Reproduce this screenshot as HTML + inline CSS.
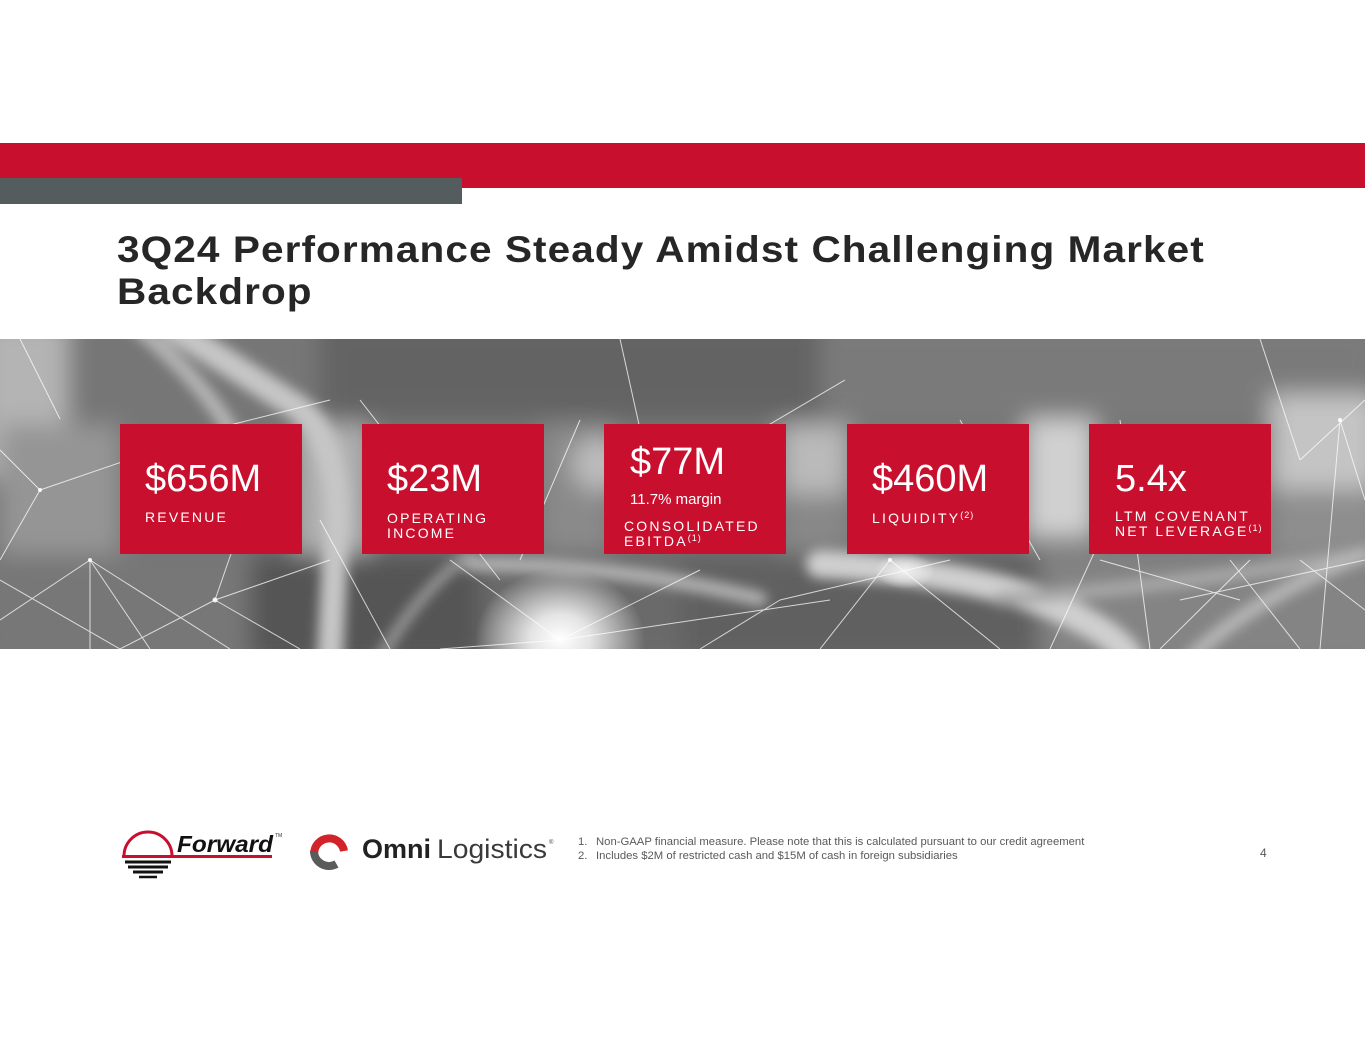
<!DOCTYPE html>
<html>
<head>
<meta charset="utf-8">
<style>
  html,body{margin:0;padding:0;}
  body{width:1365px;height:1055px;position:relative;overflow:hidden;background:#ffffff;font-family:"Liberation Sans",Arial,sans-serif;}
  .abs{position:absolute;}
  .redbar{left:0;top:143px;width:1365px;height:45px;background:#c8102e;}
  .graybar{left:0;top:178px;width:462px;height:26px;background:#545c5e;}
  .title{left:117px;top:229px;font-size:37px;line-height:42px;font-weight:bold;color:#262626;letter-spacing:1px;white-space:nowrap;transform:scaleX(1.095);transform-origin:0 0;}
  .box{position:absolute;top:424px;width:182px;height:130px;background:#c8102e;}
  .num{position:absolute;font-size:38px;line-height:38px;color:#fff;white-space:nowrap;}
  .lbl{position:absolute;font-size:14px;line-height:14.5px;color:#fff;letter-spacing:2.2px;white-space:nowrap;}
  .lbl sup{font-size:9px;letter-spacing:1px;vertical-align:0;position:relative;top:-5px;}
  .sub{position:absolute;font-size:15px;line-height:15px;color:#fff;white-space:nowrap;}
  .fn{position:absolute;font-size:11.3px;line-height:14px;color:#595959;white-space:nowrap;}
</style>
</head>
<body>
<div class="abs redbar"></div>
<div class="abs graybar"></div>
<div class="abs title">3Q24 Performance Steady Amidst Challenging Market<br>Backdrop</div>

<!-- photo -->
<svg class="abs" style="left:0;top:339px" width="1365" height="310" viewBox="0 0 1365 310">
  <defs>
    <filter id="b12" x="-20%" y="-20%" width="140%" height="140%"><feGaussianBlur stdDeviation="12"/></filter>
    <filter id="b6" x="-20%" y="-20%" width="140%" height="140%"><feGaussianBlur stdDeviation="6"/></filter>
    <radialGradient id="glow" cx="0.5" cy="0.5" r="0.5">
      <stop offset="0" stop-color="#ffffff" stop-opacity="1"/>
      <stop offset="0.35" stop-color="#f2f2f2" stop-opacity="0.9"/>
      <stop offset="1" stop-color="#ffffff" stop-opacity="0"/>
    </radialGradient>
  </defs>
  <rect x="0" y="0" width="1365" height="310" fill="#767676"/>
  <g filter="url(#b12)">
    <rect x="-20" y="-20" width="90" height="160" fill="#b4b4b4"/>
    <rect x="320" y="-20" width="500" height="100" fill="#636363"/>
    <rect x="820" y="-20" width="560" height="100" fill="#7a7a7a"/>
    <rect x="0" y="85" width="120" height="130" fill="#959595"/>
    <rect x="295" y="85" width="75" height="130" fill="#b0b0b0"/>
    <rect x="540" y="85" width="70" height="130" fill="#8a8a8a"/>
    <circle cx="600" cy="125" r="28" fill="#bcbcbc"/>
    <rect x="780" y="85" width="70" height="70" fill="#bababa"/>
    <rect x="780" y="155" width="70" height="60" fill="#888"/>
    <rect x="1025" y="80" width="70" height="120" fill="#d0d0d0"/>
    <rect x="1270" y="55" width="110" height="95" fill="#c4c4c4"/>
    <rect x="1270" y="150" width="110" height="70" fill="#8e8e8e"/>
    <rect x="-20" y="215" width="270" height="110" fill="#777"/>
    <rect x="250" y="215" width="230" height="110" fill="#545454"/>
    <rect x="480" y="215" width="200" height="110" fill="#6a6a6a"/>
    <rect x="680" y="215" width="360" height="110" fill="#616161"/>
    <rect x="1040" y="215" width="340" height="110" fill="#848484"/>
  </g>
  <g filter="url(#b6)" fill="none" stroke-linecap="round">
    <path d="M175 -10 L300 70 Q345 110 335 215 L330 320" stroke="#c6c6c6" stroke-width="26"/>
    <path d="M140 -10 Q200 40 230 90" stroke="#b5b5b5" stroke-width="16"/>
    <path d="M470 225 Q620 225 760 260" stroke="#b5b5b5" stroke-width="14"/>
    <path d="M820 225 Q1000 235 1080 280 Q1120 300 1130 320" stroke="#cfcfcf" stroke-width="28"/>
    <path d="M1000 260 Q1150 250 1365 215" stroke="#a8a8a8" stroke-width="14"/>
    <path d="M1365 215 Q1250 260 1190 320" stroke="#b8b8b8" stroke-width="14"/>
    <path d="M380 320 Q420 250 470 215" stroke="#9c9c9c" stroke-width="10"/>
  </g>
  <ellipse cx="560" cy="300" rx="85" ry="70" fill="url(#glow)"/>
  <ellipse cx="905" cy="232" rx="30" ry="18" fill="url(#glow)" opacity="0.7"/>
  <g stroke="#ffffff" stroke-width="1" opacity="0.75" fill="none">
    <line x1="40" y1="151" x2="230" y2="86"/>
    <line x1="40" y1="151" x2="0" y2="221"/>
    <line x1="0" y1="111" x2="40" y2="151"/>
    <line x1="90" y1="221" x2="0" y2="281"/>
    <line x1="90" y1="221" x2="230" y2="310"/>
    <line x1="90" y1="221" x2="150" y2="310"/>
    <line x1="90" y1="221" x2="90" y2="310"/>
    <line x1="0" y1="241" x2="120" y2="310"/>
    <line x1="215" y1="261" x2="330" y2="221"/>
    <line x1="215" y1="261" x2="120" y2="310"/>
    <line x1="215" y1="261" x2="300" y2="310"/>
    <line x1="215" y1="261" x2="250" y2="160"/>
    <line x1="320" y1="181" x2="390" y2="310"/>
    <line x1="360" y1="61" x2="500" y2="241"/>
    <line x1="450" y1="221" x2="560" y2="301"/>
    <line x1="560" y1="301" x2="700" y2="231"/>
    <line x1="560" y1="301" x2="830" y2="261"/>
    <line x1="560" y1="301" x2="440" y2="310"/>
    <line x1="780" y1="261" x2="950" y2="221"/>
    <line x1="780" y1="261" x2="700" y2="310"/>
    <line x1="890" y1="221" x2="820" y2="310"/>
    <line x1="890" y1="221" x2="1000" y2="310"/>
    <line x1="1100" y1="201" x2="1050" y2="310"/>
    <line x1="1120" y1="81" x2="1150" y2="310"/>
    <line x1="1230" y1="221" x2="1300" y2="310"/>
    <line x1="1300" y1="221" x2="1365" y2="271"/>
    <line x1="1340" y1="81" x2="1320" y2="310"/>
    <line x1="1340" y1="81" x2="1365" y2="161"/>
    <line x1="1300" y1="121" x2="1365" y2="61"/>
    <line x1="1250" y1="221" x2="1160" y2="310"/>
    <line x1="760" y1="91" x2="845" y2="41"/>
    <line x1="580" y1="81" x2="520" y2="221"/>
    <line x1="230" y1="86" x2="330" y2="61"/>
    <line x1="960" y1="81" x2="1040" y2="221"/>
    <line x1="1100" y1="221" x2="1240" y2="261"/>
    <line x1="1180" y1="261" x2="1365" y2="221"/>
    <line x1="620" y1="0" x2="640" y2="90"/>
    <line x1="1260" y1="0" x2="1300" y2="121"/>
    <line x1="20" y1="0" x2="60" y2="80"/>
  </g>
  <g fill="#ffffff" opacity="0.9">
    <circle cx="40" cy="151" r="2"/>
    <circle cx="90" cy="221" r="2"/>
    <circle cx="215" cy="261" r="2.5"/>
    <circle cx="890" cy="221" r="2"/>
    <circle cx="1340" cy="81" r="2"/>
  </g>
</svg>

<!-- boxes -->
<div class="box" style="left:120px"></div>
<div class="box" style="left:362px"></div>
<div class="box" style="left:604px"></div>
<div class="box" style="left:847px"></div>
<div class="box" style="left:1089px"></div>

<div class="num" style="left:145px;top:460px">$656M</div>
<div class="lbl" style="left:145px;top:510px">REVENUE</div>

<div class="num" style="left:387px;top:460px">$23M</div>
<div class="lbl" style="left:387px;top:511px">OPERATING<br>INCOME</div>

<div class="num" style="left:630px;top:443px">$77M</div>
<div class="sub" style="left:630px;top:492px">11.7% margin</div>
<div class="lbl" style="left:624px;top:519px">CONSOLIDATED<br>EBITDA<sup>(1)</sup></div>

<div class="num" style="left:872px;top:460px">$460M</div>
<div class="lbl" style="left:872px;top:511px">LIQUIDITY<sup>(2)</sup></div>

<div class="num" style="left:1115px;top:460px">5.4x</div>
<div class="lbl" style="left:1115px;top:509px">LTM COVENANT<br>NET LEVERAGE<sup>(1)</sup></div>

<!-- logos -->
<svg class="abs" style="left:110px;top:820px" width="460" height="70" viewBox="0 0 460 70">
  <path d="M14 36 A24 24 0 0 1 62 36" fill="none" stroke="#c8102e" stroke-width="3"/>
  <line x1="12" y1="36.5" x2="162" y2="36.5" stroke="#c8102e" stroke-width="3"/>
  <line x1="15" y1="42" x2="61" y2="42" stroke="#111" stroke-width="3"/>
  <line x1="18" y1="47" x2="58" y2="47" stroke="#111" stroke-width="3"/>
  <line x1="23" y1="52" x2="53" y2="52" stroke="#111" stroke-width="3"/>
  <line x1="29" y1="57" x2="47" y2="57" stroke="#111" stroke-width="2.5"/>
  <text x="67" y="32" font-family="Liberation Sans, Arial, sans-serif" font-size="23" font-weight="bold" font-style="italic" fill="#111" textLength="96" lengthAdjust="spacingAndGlyphs">Forward</text>
  <text x="165" y="17" font-family="Liberation Sans, Arial, sans-serif" font-size="5" fill="#333">TM</text>
  <path d="M204.2 33.6 A15 15 0 0 1 234 31" fill="none" stroke="#d2232a" stroke-width="8"/>
  <path d="M226.5 44 A15 15 0 0 1 204 31" fill="none" stroke="#5b5b5b" stroke-width="8"/>
  <text x="252" y="38" font-family="Liberation Sans, Arial, sans-serif" font-size="27" font-weight="bold" fill="#222">Omni</text>
  <text x="327" y="38" font-family="Liberation Sans, Arial, sans-serif" font-size="27" fill="#3a3a3a" textLength="110" lengthAdjust="spacingAndGlyphs">Logistics</text>
  <text x="439" y="24" font-family="Liberation Sans, Arial, sans-serif" font-size="6" fill="#444">®</text>
</svg>

<div class="fn" style="left:578px;top:835px">1.</div>
<div class="fn" style="left:596px;top:835px">Non-GAAP financial measure. Please note that this is calculated pursuant to our credit agreement</div>
<div class="fn" style="left:578px;top:849px">2.</div>
<div class="fn" style="left:596px;top:849px">Includes $2M of restricted cash and $15M of cash in foreign subsidiaries</div>
<div class="fn" style="left:1260px;top:846px;font-size:12px">4</div>
</body>
</html>
